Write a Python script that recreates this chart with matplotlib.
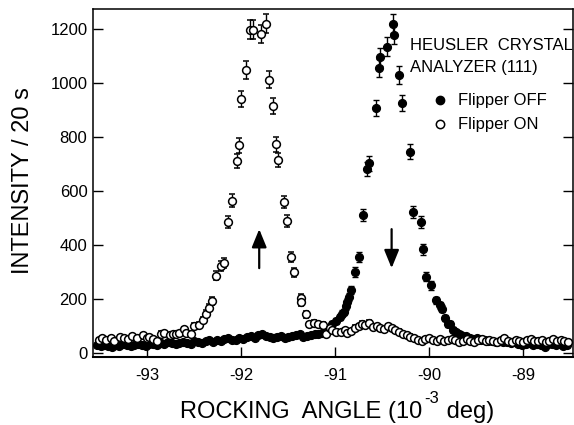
import numpy as np
import matplotlib
matplotlib.use("Agg")
import matplotlib.pyplot as plt

plt.rcParams['font.family'] = ['Liberation Sans', 'DejaVu Sans']
plt.rcParams['axes.unicode_minus'] = False

# Flipper ON (open circles)
on_x = [-93.52, -93.48, -93.44, -93.39, -93.36, -93.29, -93.25, -93.21, -93.16, -93.11,
        -93.05, -93.01, -92.98, -92.94, -92.90, -92.86, -92.82, -92.76, -92.73, -92.70,
        -92.66, -92.61, -92.59, -92.54, -92.50, -92.45, -92.41, -92.38, -92.35, -92.31,
        -92.27, -92.22, -92.19, -92.14, -92.10, -92.05, -92.03, -92.00, -91.95, -91.91,
        -91.88, -91.79, -91.74, -91.71, -91.66, -91.63, -91.61, -91.55, -91.51, -91.47,
        -91.44, -91.37, -91.36, -91.31, -91.28, -91.23, -91.18, -91.13, -91.10, -91.06,
        -91.03, -90.99, -90.94, -90.90, -90.87, -90.83, -90.79, -90.75, -90.72, -90.68,
        -90.64, -90.60, -90.56, -90.52, -90.48, -90.44, -90.40, -90.36, -90.32, -90.28,
        -90.24, -90.20, -90.16, -90.12, -90.08, -90.04, -90.00, -89.96, -89.92, -89.88,
        -89.84, -89.80, -89.76, -89.72, -89.68, -89.64, -89.60, -89.56, -89.52, -89.48,
        -89.44, -89.40, -89.36, -89.32, -89.28, -89.24, -89.20, -89.16, -89.12, -89.08,
        -89.04, -89.00, -88.96, -88.92, -88.88, -88.84, -88.80, -88.76, -88.72, -88.68,
        -88.64, -88.60, -88.56, -88.52]
on_y = [48, 55, 50, 58, 45, 60, 55, 52, 63, 57,
        66, 58, 60, 52, 44, 73, 75, 66, 70, 73,
        75, 89, 76, 73, 102, 106, 122, 147, 169, 194,
        288, 322, 334, 486, 565, 712, 771, 942, 1050, 1198,
        1198, 1182, 1220, 1013, 916, 775, 716, 560, 490, 356,
        300, 206, 190, 144, 107, 112, 107, 104, 73, 95,
        88, 80, 78, 85, 75, 82, 95, 100, 110, 105,
        112, 98, 100, 92, 90, 100, 92, 86, 80, 72,
        66, 62, 58, 50, 44, 52, 55, 50, 46, 52,
        44, 48, 54, 50, 42, 47, 53, 45, 40, 48,
        52, 44, 50, 46, 41, 49, 55, 47, 43, 50,
        45, 40, 48, 52, 44, 46, 50, 42, 47, 53,
        45, 50, 44, 40]

# Flipper OFF (filled circles)
off_x = [-93.54, -93.50, -93.46, -93.42, -93.38, -93.34, -93.30, -93.26, -93.22, -93.18,
         -93.14, -93.10, -93.06, -93.02, -92.98, -92.94, -92.90, -92.86, -92.82, -92.78,
         -92.74, -92.70, -92.66, -92.62, -92.58, -92.54, -92.50, -92.46, -92.42, -92.38,
         -92.34, -92.30, -92.26, -92.22, -92.18, -92.14, -92.10, -92.06, -92.02, -91.98,
         -91.94, -91.90, -91.86, -91.82, -91.78, -91.74, -91.70, -91.66, -91.62, -91.58,
         -91.54, -91.50, -91.46, -91.42, -91.38, -91.34, -91.30, -91.26, -91.22, -91.18,
         -91.14, -91.10, -91.06, -91.03, -90.99, -90.95, -90.93, -90.91, -90.89, -90.87,
         -90.85, -90.83, -90.79, -90.75, -90.71, -90.66, -90.64, -90.57, -90.53, -90.52,
         -90.45, -90.39, -90.37, -90.32, -90.29, -90.20, -90.17, -90.09, -90.07, -90.03,
         -89.98, -89.93, -89.89, -89.86, -89.83, -89.80, -89.78, -89.75, -89.71, -89.68,
         -89.66, -89.61, -89.57, -89.53, -89.49, -89.45, -89.41, -89.37, -89.33, -89.29,
         -89.25, -89.21, -89.17, -89.13, -89.09, -89.05, -89.01, -88.97, -88.93, -88.89,
         -88.85, -88.81, -88.77, -88.73, -88.69, -88.65, -88.61, -88.57, -88.53]
off_y = [30, 26, 32, 28, 24, 30, 27, 33, 29, 26,
         31, 35, 30, 28, 33, 36, 32, 38, 35, 40,
         37, 33, 39, 42, 38, 36, 44, 40, 38, 45,
         48, 42, 50, 46, 52, 55, 50, 48, 56, 54,
         60, 63, 58, 66, 70, 64, 60, 57, 62, 65,
         58, 60, 63, 66, 70, 62, 64, 68, 72, 70,
         76, 80, 92, 110, 118, 134, 147, 153, 175, 190,
         208, 233, 301, 357, 512, 681, 703, 908, 1056, 1097,
         1136, 1221, 1180, 1031, 926, 747, 524, 487, 385, 283,
         252, 196, 178, 165, 130, 107, 110, 88, 79, 73,
         66, 64, 58, 52, 55, 48, 50, 45, 47, 42,
         44, 42, 40, 38, 41, 36, 29, 34, 38, 32,
         35, 30, 23, 33, 36, 30, 34, 28, 32]

x_ticks = [-93, -92, -91, -90, -89]
y_ticks = [0, 200, 400, 600, 800, 1000, 1200]

W, H = 574, 425
fig = plt.figure(figsize=(W / 100, H / 100), dpi=100)
ax = fig.add_axes([93 / W, 1 - 356.5 / H, 1.0 - 93 / W - 0.002, (356.5 - 9.3) / H])

on_err = np.sqrt(on_y)
off_err = np.sqrt(off_y)

ax.errorbar(off_x, off_y, yerr=off_err, fmt='o', ms=5.6, mfc='black', mec='black',
            mew=1.0, ecolor='black', elinewidth=1.0, capsize=2.0, capthick=1.0, zorder=3)
ax.errorbar(on_x, on_y, yerr=on_err, fmt='o', ms=5.6, mfc='white', mec='black',
            mew=1.1, ecolor='black', elinewidth=1.0, capsize=2.0, capthick=1.0, zorder=4)

ax.set_xlim(-93.58, -88.47)
ax.set_ylim(-12, 1274)
ax.set_xticks(x_ticks)
ax.set_xticklabels([str(v) for v in x_ticks])
ax.set_yticks(y_ticks)
ax.tick_params(axis='both', direction='in', length=7.5, width=1.0, labelsize=12)
ax.tick_params(axis='y', right=True, pad=4)
ax.tick_params(axis='x', pad=8)
for s in ['left', 'bottom', 'top', 'right']:
    ax.spines[s].set_linewidth(1.1)
ax.spines['bottom'].set_linewidth(1.5)

# arrows
ax.annotate('', xy=(-91.81, 470), xytext=(-91.81, 305),
            arrowprops=dict(arrowstyle='-|>,head_length=1.1,head_width=0.45', lw=1.6, color='black'))
ax.annotate('', xy=(-90.40, 305), xytext=(-90.40, 470),
            arrowprops=dict(arrowstyle='-|>,head_length=1.1,head_width=0.45', lw=1.6, color='black'))

# legend / annotation
fig.text(410 / W, 1 - 50 / H, 'HEUSLER  CRYSTAL', fontsize=12, va='baseline', ha='left')
fig.text(410 / W, 1 - 72 / H, 'ANALYZER (111)', fontsize=12, va='baseline', ha='left')
ax.plot([440 / W], [1 - 100 / H], 'o', ms=6, mfc='black', mec='black', transform=fig.transFigure, clip_on=False)
ax.plot([440 / W], [1 - 124 / H], 'o', ms=6, mfc='white', mec='black', mew=1.1, transform=fig.transFigure, clip_on=False)
fig.text(458 / W, 1 - 100 / H, 'Flipper OFF', fontsize=12, va='center', ha='left')
fig.text(458 / W, 1 - 124 / H, 'Flipper ON', fontsize=12, va='center', ha='left')

fig.text(23 / W, 1 - 181 / H, 'INTENSITY / 20 s', fontsize=17, rotation=90, va='center', ha='center')

# x label with a hyphen-style superscript, built from pieces
renderer = fig.canvas.get_renderer()
base_y = 1 - 418 / H
t1 = fig.text(180 / W, base_y, 'ROCKING  ANGLE (10', fontsize=17, va='baseline', ha='left')
bb1 = t1.get_window_extent(renderer)
t2 = fig.text((bb1.x1 + 2) / W, 1 - 403 / H, '-3', fontsize=12, va='baseline', ha='left')
bb2 = t2.get_window_extent(renderer)
fig.text((bb2.x1 + 1) / W, base_y, ' deg)', fontsize=17, va='baseline', ha='left')

fig.savefig('out.png', dpi=100)
